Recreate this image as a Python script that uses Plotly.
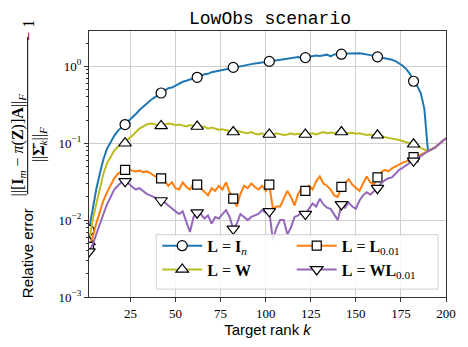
import plotly.graph_objects as go

## Data:
# ======================================
rank = list(range(2, 201, 2))

err_In = [0.0074, 0.014, 0.025, 0.04, 0.062, 0.085, 0.105, 0.125, 0.145, 0.16,
          0.175, 0.195, 0.215, 0.24, 0.27, 0.30, 0.33, 0.36, 0.39, 0.42,
          0.45, 0.49, 0.52, 0.53, 0.56, 0.60, 0.63, 0.65, 0.68, 0.70,
          0.72, 0.76, 0.79, 0.80, 0.84, 0.86, 0.88, 0.90, 0.93, 0.95,
          0.97, 0.99, 1.01, 1.04, 1.05, 1.07, 1.09, 1.10, 1.13, 1.14,
          1.16, 1.18, 1.20, 1.22, 1.24, 1.25, 1.27, 1.30, 1.32, 1.28,
          1.30, 1.33, 1.35, 1.38, 1.36, 1.40, 1.42, 1.35, 1.43, 1.45,
          1.44, 1.46, 1.47, 1.47, 1.50, 1.48, 1.46, 1.44, 1.40, 1.36,
          1.33, 1.31, 1.29, 1.26, 1.22, 1.17, 1.10, 1.02, 0.92, 0.80,
          0.64, 0.56, 0.45, 0.28, 0.079, 0.083, 0.088, 0.097, 0.106, 0.116]

err_W = [0.0052, 0.010, 0.016, 0.026, 0.040, 0.055, 0.066, 0.080, 0.090, 0.097,
         0.100, 0.115, 0.125, 0.140, 0.155, 0.165, 0.175, 0.180, 0.178, 0.172,
         0.168, 0.175, 0.180, 0.178, 0.172, 0.175, 0.170, 0.165, 0.172, 0.168,
         0.165, 0.162, 0.165, 0.155, 0.160, 0.155, 0.150, 0.152, 0.148, 0.145,
         0.140, 0.145, 0.140, 0.138, 0.135, 0.140, 0.133, 0.130, 0.135, 0.130,
         0.130, 0.130, 0.135, 0.132, 0.128, 0.130, 0.135, 0.130, 0.133, 0.130,
         0.130, 0.132, 0.135, 0.130, 0.135, 0.140, 0.135, 0.138, 0.135, 0.140,
         0.140, 0.138, 0.135, 0.137, 0.133, 0.135, 0.130, 0.128, 0.130, 0.127,
         0.127, 0.125, 0.120, 0.118, 0.115, 0.112, 0.110, 0.107, 0.103, 0.100,
         0.097, 0.092, 0.087, 0.082, 0.079, 0.083, 0.088, 0.097, 0.106, 0.116]

err_L001 = [0.0045, 0.006, 0.009, 0.013, 0.018, 0.023, 0.029, 0.035, 0.040, 0.043,
            0.045, 0.046, 0.044, 0.043, 0.044, 0.042, 0.043, 0.041, 0.038, 0.036,
            0.035, 0.032, 0.028, 0.031, 0.026, 0.025, 0.031, 0.027, 0.025, 0.030,
            0.029, 0.026, 0.024, 0.021, 0.026, 0.024, 0.028, 0.025, 0.031, 0.023,
            0.019, 0.015, 0.022, 0.028, 0.026, 0.030, 0.027, 0.025, 0.028, 0.024,
            0.029, 0.014, 0.015, 0.015, 0.019, 0.024, 0.020, 0.0155, 0.022, 0.026,
            0.024, 0.028, 0.025, 0.032, 0.037, 0.030, 0.028, 0.025, 0.021, 0.020,
            0.027, 0.030, 0.034, 0.029, 0.026, 0.024, 0.030, 0.037, 0.031, 0.029,
            0.036, 0.042, 0.045, 0.043, 0.047, 0.050, 0.053, 0.056, 0.058, 0.061,
            0.066, 0.068, 0.071, 0.075, 0.079, 0.083, 0.088, 0.097, 0.106, 0.116]

err_WL001 = [0.0039, 0.0048, 0.0065, 0.009, 0.012, 0.016, 0.020, 0.025, 0.028, 0.031,
             0.032, 0.030, 0.027, 0.025, 0.026, 0.024, 0.022, 0.021, 0.020, 0.019,
             0.018, 0.017, 0.0155, 0.014, 0.013, 0.012, 0.013, 0.0095, 0.007, 0.011,
             0.0125, 0.012, 0.0105, 0.0115, 0.009, 0.011, 0.0105, 0.012, 0.0135, 0.011,
             0.0077, 0.009, 0.012, 0.011, 0.010, 0.011, 0.0115, 0.012, 0.0135, 0.0125,
             0.013, 0.0055, 0.008, 0.010, 0.010, 0.0065, 0.008, 0.011, 0.0115, 0.0125,
             0.012, 0.014, 0.0165, 0.015, 0.019, 0.016, 0.0145, 0.014, 0.012, 0.010,
             0.016, 0.0145, 0.017, 0.015, 0.014, 0.018, 0.021, 0.023, 0.0215, 0.024,
             0.026, 0.030, 0.033, 0.035, 0.036, 0.040, 0.045, 0.048, 0.052, 0.056,
             0.059, 0.064, 0.068, 0.073, 0.079, 0.083, 0.088, 0.097, 0.106, 0.116]

marker_ranks = list(range(2, 183, 20))

x_ticks = [25, 50, 75, 100, 125, 150, 175, 200]
y_ticks = [1e-3, 1e-2, 1e-1, 1e0]
y_ticklabels = ['10<sup>−3</sup>', '10<sup>−2</sup>', '10<sup>−1</sup>', '10<sup>0</sup>']

series = [
    # naam, waarden, kleur, marker, legend-groep, legendrank
    ('<b>L</b> = <b>I</b><sub><i>n</i></sub>', err_In, '#1f77b4', 'circle', 'legend', 1),
    ('<b>L</b> = <b>W</b>', err_W, '#bcbd22', 'triangle-up', 'legend', 2),
    ('<b>L</b> = <b>L</b><sub>0.01</sub>', err_L001, '#ff7f0e', 'square', 'legend2', 1),
    ('<b>L</b> = <b>WL</b><sub>0.01</sub>', err_WL001, '#9467bd', 'triangle-down', 'legend2', 2),
]
marker_size = {'circle': 10, 'triangle-up': 11, 'square': 9, 'triangle-down': 11}

## Figuur:
# ======================================
fig = go.Figure()

for name, vals, color, symbol, lg, lr in series:
    fig.add_trace(go.Scatter(
        x=rank, y=vals, mode='lines',
        line=dict(width=2, color=color),
        hoverinfo='none', showlegend=False,
    ))
    idx = [rank.index(r) for r in marker_ranks]
    fig.add_trace(go.Scatter(
        x=[rank[i] for i in idx], y=[vals[i] for i in idx], mode='markers',
        marker=dict(symbol=symbol, size=marker_size[symbol], color='white',
                    line=dict(width=1.2, color='black')),
        hoverinfo='none', showlegend=False,
    ))
    # alleen voor de legenda
    fig.add_trace(go.Scatter(
        x=[None], y=[None], mode='lines+markers', name=name,
        line=dict(width=2, color=color),
        marker=dict(symbol=symbol, size=marker_size[symbol], color='white',
                    line=dict(width=1.2, color='black')),
        legend=lg, legendrank=lr,
    ))

## Assen:
# --------------------------------------
axis_common = dict(
    showline=True, linecolor='#333333', linewidth=1.2, mirror=True,
    showgrid=True, gridcolor='#cfcfcf', gridwidth=1,
    ticks='outside', ticklen=4, tickcolor='#333333',
    tickfont=dict(family='Liberation Serif', size=13, color='black'),
    zeroline=False, ticklabeloverflow='allow',
)
fig.update_xaxes(range=[2, 200], tickvals=x_ticks, **axis_common,
                 title=dict(text='Target rank <i>k</i>',
                            font=dict(family='Liberation Sans', size=15, color='black'),
                            standoff=4))
fig.update_yaxes(type='log', range=[-3, 0.46], tickvals=y_ticks, ticktext=y_ticklabels,
                 minor=dict(ticks='outside', ticklen=2, tickcolor='#333333',
                            dtick='D1', showgrid=False),
                 **axis_common)

## Y-as label (gestapelde tekst):
# --------------------------------------
def px_x(p):
    return (p - 89) / 361

def px_y(p):
    return (300 - p) / 269

serif = dict(family='Liberation Serif', size=16, color='black')
ann = [
    dict(text='Relative error', x=px_x(27), y=px_y(256),
         font=dict(family='Liberation Sans', size=15, color='black')),
    dict(text='||[<b>I</b><sub><i>m</i></sub> − <i>π</i>(<b>Z</b>)]<b>A</b>||<sub><i>F</i></sub>',
         x=px_x(18), y=px_y(146), font=serif),
    dict(text='||<b>Σ̄</b><sub><i>k</i></sub>||<sub><i>F</i></sub>',
         x=px_x(39), y=px_y(146), font=serif),
    dict(text='− 1', x=px_x(27), y=px_y(30), font=serif),
]
for a in ann:
    fig.add_annotation(xref='paper', yref='paper', showarrow=False, textangle=-90,
                       xanchor='center', yanchor='middle', **a)

fig.add_shape(type='line', xref='paper', yref='paper',
              x0=px_x(27), x1=px_x(27), y0=px_y(196), y1=px_y(37),
              line=dict(color='black', width=1))

## Legenda-kader:
# --------------------------------------
x0, x1, y0, y1 = px_x(157), px_x(442), px_y(292), px_y(237)
fig.add_shape(type='rect', xref='paper', yref='paper', x0=x0, x1=x1, y0=y0, y1=y1,
              fillcolor='rgba(255,255,255,0.85)', line=dict(color='#d0d0d0', width=1),
              layer='above')

legend_style = dict(bgcolor='rgba(0,0,0,0)', borderwidth=0, xanchor='left', yanchor='top',
                    font=dict(family='Liberation Serif', size=16, color='black'),
                    tracegroupgap=0, itemwidth=40)
fig.update_layout(
    legend=dict(x=px_x(158), y=px_y(231), **legend_style),
    legend2=dict(x=px_x(294), y=px_y(231), **legend_style),
)

fig.update_layout(
    width=468, height=347,
    margin=dict(l=89, r=18, t=31, b=47),
    plot_bgcolor='white', paper_bgcolor='white',
    title=dict(text='LowObs scenario', x=270 / 468, xanchor='center', y=1 - 18 / 347,
               yanchor='middle', font=dict(family='Liberation Mono', size=18, color='black')),
)

# body-marge van de browser weghalen
fig.write_html("out.html", config={'displayModeBar': False},
               post_script="document.body.style.margin='0';")
